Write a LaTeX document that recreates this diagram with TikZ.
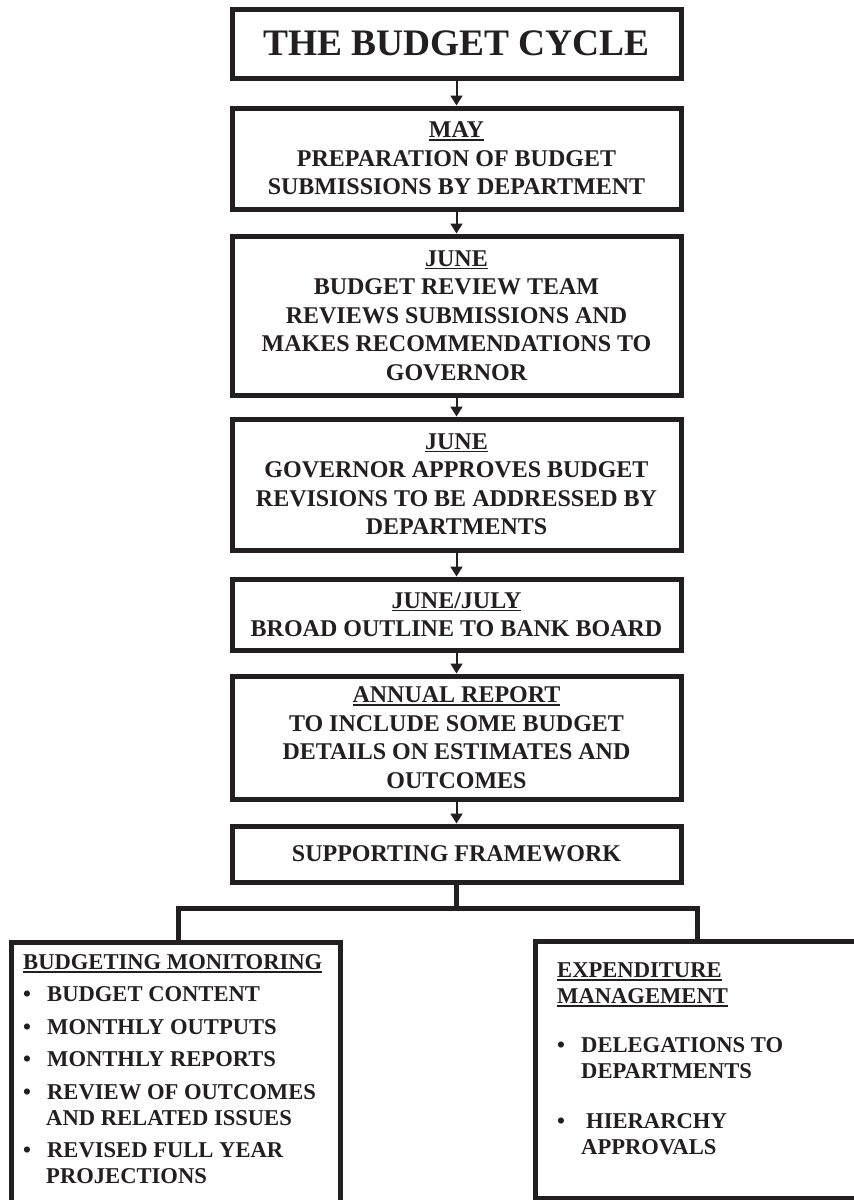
\documentclass[tikz,border=0pt]{standalone}
\usepackage{fontspec}
\setmainfont{Liberation Serif}
\usetikzlibrary{arrows.meta}
\definecolor{ink}{RGB}{35,31,32}
\newcommand\myul[1]{\setbox0\hbox{#1}\rlap{\rule[-3pt]{\wd0}{1.5pt}}\box0}
\newcommand\bul{\makebox[24pt][l]{\textbullet}}
\tikzset{
  box/.style={draw=ink, line width=5pt, minimum width=449pt, inner sep=0pt,
    align=center, font=\fontsize{24}{28.5}\selectfont\bfseries, text=ink},
  txt/.style={inner sep=0pt, align=left, text=ink,
    font=\fontsize{22.6}{26}\selectfont\bfseries},
  flow/.style={-{Triangle[length=10pt,width=12pt]}, line width=2pt, draw=ink},
  conn/.style={line width=5pt, draw=ink, line join=miter},
}
\begin{document}
\begin{tikzpicture}[x=1pt,y=-1pt]
\clip (0,0) rectangle (854,1200);
\fill[white] (0,0) rectangle (854,1200);
\node[box, minimum height=69pt, font=\fontsize{37.4}{42}\selectfont\bfseries] (title) at (456.5,43.5) {THE BUDGET CYCLE};
\node[box, minimum height=101pt] (may) at (456.5,158.5) {\myul{MAY}\\PREPARATION OF BUDGET\\SUBMISSIONS BY DEPARTMENT};
\node[box, minimum height=159pt] (jun1) at (456.5,315.5) {\myul{JUNE}\\BUDGET REVIEW TEAM\\REVIEWS SUBMISSIONS AND\\MAKES RECOMMENDATIONS TO\\GOVERNOR};
\node[box, minimum height=131pt] (jun2) at (456.5,484.5) {\myul{JUNE}\\GOVERNOR APPROVES BUDGET\\REVISIONS TO BE ADDRESSED BY\\DEPARTMENTS};
\node[box, minimum height=71pt] (jj) at (456.5,614.5) {\myul{JUNE/JULY}\\BROAD OUTLINE TO BANK BOARD};
\node[box, minimum height=123pt] (annual) at (456.5,737.5) {\myul{ANNUAL REPORT}\\TO INCLUDE SOME BUDGET\\DETAILS ON ESTIMATES AND\\OUTCOMES};
\node[box, minimum height=56pt] (support) at (456.5,854) {SUPPORTING FRAMEWORK};

\draw[flow] (title.south) -- (may.north);
\draw[flow] (may.south) -- (jun1.north);
\draw[flow] (jun1.south) -- (jun2.north);
\draw[flow] (jun2.south) -- (jj.north);
\draw[flow] (jj.south) -- (annual.north);
\draw[flow] (annual.south) -- (support.north);

\node[box, minimum width=329pt, minimum height=298pt] (left) at (175.5,1091) {};
\node[box, minimum width=345pt, minimum height=257pt] (right) at (707.5,1069.5) {};

\coordinate (jl) at (178,908);
\coordinate (jr) at (697,908);
\draw[conn] (support.south) -- (support.south |- jl);
\draw[conn] (left.north -| jl) -- (jl) -- (jr) -- (right.north -| jr);

\node[txt, anchor=north west] (lefttext) at (23,954.5) {\myul{BUDGETING MONITORING}\\[6pt]
\bul BUDGET CONTENT\\[6.5pt]
\bul MONTHLY OUTPUTS\\[6.5pt]
\bul MONTHLY REPORTS\\[6.5pt]
\bul REVIEW OF OUTCOMES\\
\hspace*{23pt}AND RELATED ISSUES\\[6.5pt]
\bul REVISED FULL YEAR\\
\hspace*{23pt}PROJECTIONS};

\node[txt, anchor=north west] (righttext) at (557,962.5) {\myul{EXPENDITURE}\\
\myul{MANAGEMENT}\\[23pt]
\bul DELEGATIONS TO\\
\hspace*{24pt}DEPARTMENTS\\[24pt]
\bul\hspace{5pt}HIERARCHY\\
\hspace*{24pt}APPROVALS};
\end{tikzpicture}
\end{document}
